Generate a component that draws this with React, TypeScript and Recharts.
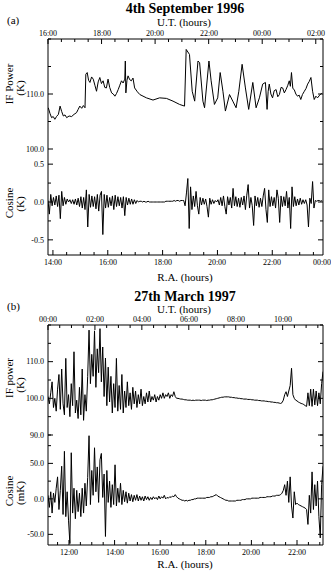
import React from "react";
import { LineChart, Line, XAxis, YAxis } from "recharts";

const FONT = '"Liberation Serif", "Times New Roman", Times, serif';

// ---- (a) 4th September 1996 ----
const raPowA = [
  13.83, 13.89, 13.95, 14.01, 14.07, 14.13, 14.2, 14.26, 14.32, 14.38,
  14.44, 14.5, 14.59, 14.68, 14.77, 14.86, 14.92, 14.98, 15.05, 15.11,
  15.17, 15.2, 15.25, 15.3, 15.35, 15.41, 15.47, 15.53, 15.59, 15.65,
  15.71, 15.77, 15.83, 15.89, 15.95, 16.01, 16.07, 16.14, 16.2, 16.26,
  16.32, 16.38, 16.44, 16.5, 16.56, 16.62, 16.64, 16.66, 16.7, 16.74,
  16.8, 16.86, 16.92, 16.98, 17.08, 17.17, 17.41, 17.65, 17.89, 18.14,
  18.38, 18.62, 18.8, 18.86, 18.98, 19.08, 19.17, 19.29, 19.35, 19.47,
  19.53, 19.69, 19.77, 19.89, 20.01, 20.1, 20.2, 20.29, 20.44, 20.56,
  20.68, 20.78, 20.9, 21.02, 21.14, 21.29, 21.41, 21.53, 21.65, 21.75,
  21.81, 21.85, 21.89, 21.95, 22.01, 22.07, 22.14, 22.2, 22.26, 22.32,
  22.38, 22.44, 22.5, 22.56, 22.62, 22.66, 22.7, 22.75, 22.8, 22.86,
  22.92, 22.98, 23.04, 23.1, 23.17, 23.23, 23.29, 23.35, 23.41, 23.47,
  23.53, 23.59, 23.65, 23.73, 23.81,
];
const ifPowA = [
  107.5, 106.5, 105.7, 105.9, 105.4, 105.9, 106.3, 107.8, 106.8, 106.0,
  106.2, 105.7, 106.0, 105.9, 106.3, 106.6, 107.2, 107.8, 107.4, 107.9,
  107.5, 113.6, 113.9, 112.5, 112.1, 113.1, 112.7, 111.6, 110.5, 112.2,
  113.0, 111.9, 112.4, 111.2, 111.1, 112.7, 111.2, 110.2, 110.0, 109.6,
  110.1, 110.8, 111.6, 112.4, 112.0, 112.7, 116.0, 110.2, 112.5, 113.3,
  112.6, 112.4, 112.9, 111.1, 110.4, 109.9, 109.3, 108.9, 109.3, 109.2,
  108.7, 108.1, 107.8, 118.1, 117.2, 110.5, 108.7, 116.0, 115.7, 108.7,
  107.5, 116.0, 112.4, 108.1, 109.3, 113.9, 110.5, 106.9, 109.9, 108.7,
  107.5, 110.5, 115.4, 111.1, 107.2, 112.1, 107.5, 109.3, 111.8, 112.1,
  107.2, 110.5, 111.8, 110.0, 109.3, 110.6, 110.8, 109.5, 109.9, 111.2,
  111.1, 110.2, 110.8, 111.5, 112.4, 111.4, 113.9, 111.0, 110.8, 110.0,
  109.6, 109.8, 109.0, 109.9, 110.5, 111.0, 111.8, 112.3, 113.0, 110.5,
  109.0, 109.6, 109.3, 109.8, 110.2,
];
const cosAStart = 13.82;
const cosAStep = 0.05;
const cosA = [
  0.02, -0.16, 0.1, -0.05, 0.06, -0.04, 0.08, -0.06, 0.09, -0.22,
  0.14, -0.05, 0.06, -0.03, 0.04, 0.0, 0.03, -0.02, 0.03, -0.03,
  0.04, -0.04, 0.05, -0.06, 0.07, -0.08, 0.06, -0.1, 0.16, -0.33,
  0.1, -0.07, 0.08, -0.06, 0.07, -0.09, 0.1, -0.12, 0.09, 0.14,
  -0.43, 0.1, -0.08, 0.09, -0.07, 0.06, -0.05, 0.08, -0.1, 0.09,
  -0.06, 0.07, -0.05, 0.06, -0.08, 0.07, -0.18, 0.06, -0.04, 0.05,
  -0.03, 0.04, -0.03, 0.03, -0.02, 0.02, 0.0, 0.01, 0.01, 0.0,
  0.01, 0.0, 0.0, 0.01, 0.0, 0.0, 0.0, 0.0, 0.0, 0.0,
  0.0, 0.0, 0.0, 0.0, 0.0, 0.0, 0.01, 0.01, 0.01, 0.01,
  0.01, 0.01, 0.02, 0.01, 0.02, 0.02, 0.01, 0.02, 0.02, 0.02,
  -0.05, 0.12, 0.31, -0.35, 0.2, -0.1, 0.08, -0.06, 0.14, -0.05,
  -0.16, 0.06, -0.04, 0.05, -0.03, 0.04, -0.06, -0.2, 0.05, -0.03,
  0.03, -0.02, 0.02, 0.0, 0.03, -0.04, 0.06, -0.05, 0.08, -0.06,
  -0.16, 0.07, -0.04, 0.06, -0.08, 0.18, -0.05, 0.07, -0.06, 0.05,
  -0.07, 0.06, -0.04, 0.08, -0.1, 0.09, 0.23, -0.08, 0.06, -0.05,
  -0.31, 0.08, -0.05, 0.06, -0.07, 0.05, -0.06, 0.08, 0.18, -0.1,
  -0.27, 0.16, -0.06, 0.07, -0.05, 0.06, -0.08, 0.16, 0.05, -0.27,
  0.08, -0.06, 0.07, -0.05, 0.14, -0.08, 0.06, -0.35, 0.2, -0.06,
  0.07, -0.05, 0.04, -0.04, 0.05, -0.03, 0.03, -0.02, 0.03, -0.04,
  -0.33, 0.05, -0.02, 0.27, -0.08, 0.02, 0.01, 0.02, 0.02, 0.01,
  0.02,
];

// ---- (b) 27th March 1997 ----
const bStart = 11.08;
const bStep = 0.06;
const ifPowB = [
  100.5, 98.5, 101.5, 104.5, 97.5, 100.0, 96.5, 102.5, 106.5, 97.0,
  108.0, 98.5, 95.5, 110.9, 97.5, 101.0, 95.0, 104.0, 98.0, 112.7,
  96.0, 99.5, 94.5, 103.0, 95.5, 108.0, 94.0, 101.0, 96.5, 106.0,
  118.6, 104.0, 112.0, 106.0, 118.4, 103.0, 113.5, 107.0, 119.0, 104.5,
  114.0, 100.5, 111.0, 98.0, 108.5, 99.0, 106.0, 96.0, 104.0, 97.5,
  110.9, 96.5, 103.5, 97.0, 106.5, 96.0, 102.0, 97.5, 104.5, 98.0,
  101.5, 97.0, 103.0, 98.5, 102.0, 97.5, 101.0, 98.5, 102.5, 98.0,
  100.5, 98.5, 101.5, 99.0, 102.0, 99.0, 100.5, 99.5, 101.0, 99.0,
  100.5, 99.5, 101.0, 100.0, 101.5, 100.0, 101.0, 100.5, 101.5, 100.0,
  101.0, 100.5, 101.8, 100.5, 100.0, 100.0, 99.9, 99.8, 99.8, 99.7,
  99.6, 99.6, 99.5, 99.5, 99.5, 99.4, 99.5, 99.4, 99.5, 99.5,
  99.5, 99.5, 99.4, 99.5, 99.5, 99.5, 99.4, 99.5, 99.5, 99.6,
  99.6, 99.7, 99.8, 99.9, 100.0, 100.1, 100.2, 100.3, 100.3, 100.4,
  100.4, 100.4, 100.4, 100.3, 100.3, 100.2, 100.2, 100.1, 100.1, 100.0,
  100.0, 99.9, 99.9, 99.8, 99.8, 99.8, 99.7, 99.7, 99.7, 99.6,
  99.6, 99.5, 99.5, 99.5, 99.4, 99.4, 99.3, 99.3, 99.3, 99.2,
  99.2, 99.1, 99.1, 99.0, 99.0, 98.9, 98.9, 98.8, 98.8, 98.7,
  98.6, 98.8, 99.5, 101.0, 101.8, 100.5, 102.0, 103.5, 108.2, 101.0,
  100.0, 99.5, 99.3, 99.0, 98.8, 98.6, 98.5, 98.3, 98.0, 97.8,
  101.5, 98.0, 102.5, 97.8, 102.5, 98.2, 102.0, 98.0, 101.5, 98.5,
  104.0, 107.3,
];
const cosB = [
  5, -12, 10, -20, 8, -5, 15, 31, -15, 12,
  46, -22, 67, -25, 10, -30, -63, 65, -20, 15,
  -28, 12, -18, 8, -25, 15, -20, 22, -10, 30,
  89, -8, 40, 5, 72, 10, 45, -5, 55, 64,
  2, 35, -53, 40, -5, 25, -12, 20, -8, 48,
  -10, 15, -5, 22, -8, 12, -4, 10, -6, 8,
  -3, 6, -4, 5, -2, 6, -3, 4, -2, 3,
  -3, 4, -1, 3, -2, 2, -1, 3, 0, 2,
  -1, 4, 0, 3, 1, 5, 0, 2, 1, 3,
  2, 4, 3, 6, 3, 1, 0, -1, -2, -2,
  -3, -2, -3, -2, -2, -1, -1, 0, 0, 1,
  1, 1, 1, 1, 1, 1, 2, 2, 2, 3,
  3, 4, 5, 6, 4, 3, 2, 1, 0, -1,
  -2, -2, -3, -3, -3, -3, -3, -3, -2, -2,
  -2, -2, -1, -1, -1, 0, 0, 0, 0, 1,
  1, 1, 1, 1, 1, 2, 2, 2, 2, 2,
  3, 3, 3, 3, 4, 4, 4, 5, 5, 5,
  6, 8, 12, 20, 5, 25, -5, 31, -10, -27,
  10, -8, -6, -8, -9, -10, -11, -12, -13, -15,
  -36, 5, -20, 38, -15, 20, -10, 25, -25, -55,
  20, 46,
];

type Dom = [number, number];

const raDomainA: Dom = [13.82, 23.85];
const utDomainA: Dom = [16, 26.27];
const raDomainB: Dom = [11.08, 23.14];
const utDomainB: Dom = [0, 11.72];

const ifTicksA = [100, 105, 110, 115, 120];
const ifLabelsA = [100, 110];
const cosTicksA = [-0.5, -0.25, 0, 0.25, 0.5];
const cosLabelsA = [-0.5, 0, 0.5];
const ifTicksB = [90, 95, 100, 105, 110, 115, 120];
const ifLabelsB = [100, 110];
const cosTicksB = [-50, -25, 0, 25, 50, 75, 90];
const cosLabelsB = [-50, 0, 50, 90];

const halfHours = (from: number, to: number) => {
  const out: number[] = [];
  for (let t = from; t <= to + 1e-9; t += 0.5) out.push(t);
  return out;
};

const hourLabel = (v: number) => {
  const h = ((Math.round(v) % 24) + 24) % 24;
  return (h < 10 ? "0" : "") + h + ":00";
};

function hourTick(side: "top" | "bottom", domain: Dom, labelled: boolean) {
  return (p: any) => {
    const { x, y, payload } = p;
    const v: number = payload.value;
    const major = Number.isInteger(v) && v % 2 === 0;
    const inside = v >= domain[0] - 1e-6 && v <= domain[1] + 1e-6;
    const len = major ? 5 : 3;
    const dir = side === "top" ? 1 : -1;
    // keep edge labels inside the page, as in the scanned figure
    const tx = Math.round(Math.min(x, 321.5));
    return (
      <g>
        {inside && <line x1={x} x2={x} y1={y} y2={y + dir * len} stroke="#000" />}
        {labelled && major && (
          <text
            x={tx}
            y={side === "top" ? y - 3 : y + 10}
            textAnchor="middle"
            fontSize={8}
            fontFamily={FONT}
            fill="#000"
            stroke="none"
          >
            {hourLabel(v)}
          </text>
        )}
      </g>
    );
  };
}

function valueTick(side: "left" | "right", labels: number[]) {
  return (p: any) => {
    const { x, y, payload } = p;
    const v: number = payload.value;
    const major = labels.includes(v);
    const len = major ? 5 : 3;
    const dir = side === "left" ? 1 : -1;
    return (
      <g>
        <line x1={x} x2={x + dir * len} y1={y} y2={y} stroke="#000" />
        {side === "left" && major && (
          <text x={x - 4} y={y + 2.8} textAnchor="end" fontSize={8} fontFamily={FONT} fill="#000">
            {v.toFixed(1)}
          </text>
        )}
      </g>
    );
  };
}

type PanelProps = {
  top: number;
  height: number;
  plotTop: number;
  plotBottom: number;
  rows: { x: number; v: number }[];
  xDomain: Dom;
  showXLabels: boolean;
  ut?: Dom;
  yDomain: Dom;
  yTicks: number[];
  yLabels: number[];
};

function Panel(props: PanelProps) {
  const { top, height, plotTop, plotBottom, rows, xDomain, showXLabels, ut, yDomain, yTicks, yLabels } = props;
  const xAxisHeight = showXLabels ? height - plotBottom : 0;
  return (
    <div style={{ position: "absolute", left: 0, top, width: 331, height }}>
      <LineChart
        width={331}
        height={height}
        data={rows}
        margin={{ top: ut ? 0 : plotTop, right: 0, bottom: showXLabels ? 0 : height - plotBottom, left: 0 }}
      >
        {ut && (
          <XAxis
            xAxisId="ut"
            dataKey={() => ut[0]}
            orientation="top"
            type="number"
            domain={ut}
            allowDataOverflow
            ticks={halfHours(Math.ceil(ut[0] * 2) / 2, ut[1])}
            interval={0}
            height={plotTop}
            tickSize={0}
            tickMargin={0}
            tickLine={false}
            axisLine={{ stroke: "#000" }}
            tick={hourTick("top", ut, true)}
          />
        )}
        <XAxis
          xAxisId="ra"
          dataKey="x"
          orientation="bottom"
          type="number"
          domain={xDomain}
          allowDataOverflow
          ticks={halfHours(Math.ceil(xDomain[0] * 2) / 2, showXLabels ? xDomain[1] + 0.3 : xDomain[1])}
          interval={0}
          height={xAxisHeight}
          tickSize={0}
          tickMargin={0}
          tickLine={false}
          axisLine={{ stroke: "#000" }}
          tick={hourTick("bottom", xDomain, showXLabels)}
        />
        <YAxis
          yAxisId="l"
          orientation="left"
          type="number"
          domain={yDomain}
          allowDataOverflow
          ticks={yTicks}
          interval={0}
          width={48}
          tickSize={0}
          tickMargin={0}
          tickLine={false}
          axisLine={{ stroke: "#000" }}
          tick={valueTick("left", yLabels)}
        />
        <YAxis
          yAxisId="r"
          dataKey={() => yDomain[0]}
          orientation="right"
          type="number"
          domain={yDomain}
          allowDataOverflow
          ticks={yTicks}
          interval={0}
          width={8}
          tickSize={0}
          tickMargin={0}
          tickLine={false}
          axisLine={{ stroke: "#000" }}
          tick={valueTick("right", yLabels)}
        />
        <Line
          xAxisId="ra"
          yAxisId="l"
          dataKey="v"
          type="linear"
          dot={false}
          stroke="#000"
          strokeWidth={1}
          strokeLinejoin="round"
          isAnimationActive={false}
        />
      </LineChart>
    </div>
  );
}

export default function App() {
  const rowsPowA = raPowA.map((x, i) => ({ x, v: ifPowA[i] }));
  const rowsCosA = cosA.map((v, i) => ({ x: cosAStart + i * cosAStep, v }));
  const rowsPowB = ifPowB.map((v, i) => ({ x: bStart + i * bStep, v }));
  const rowsCosB = cosB.map((v, i) => ({ x: bStart + i * bStep, v }));

  const rot = (x: number, y: number) => `translate(${x},${y}) rotate(-90)`;

  return (
    <div style={{ position: "absolute", left: 0, top: 0, width: 331, height: 571, fontFamily: FONT }}>
      <Panel top={0} height={160} plotTop={39} plotBottom={149} rows={rowsPowA} xDomain={raDomainA} showXLabels={false} ut={utDomainA} yDomain={[100, 120]} yTicks={ifTicksA} yLabels={ifLabelsA} />
      <Panel top={140} height={135} plotTop={9} plotBottom={115} rows={rowsCosA} xDomain={raDomainA} showXLabels={true} yDomain={[-0.7, 0.7]} yTicks={cosTicksA} yLabels={cosLabelsA} />
      <Panel top={290} height={155} plotTop={35} plotBottom={145} rows={rowsPowB} xDomain={raDomainB} showXLabels={false} ut={utDomainB} yDomain={[90, 120]} yTicks={ifTicksB} yLabels={ifLabelsB} />
      <Panel top={425} height={140} plotTop={10} plotBottom={120} rows={rowsCosB} xDomain={raDomainB} showXLabels={true} yDomain={[-65, 90]} yTicks={cosTicksB} yLabels={cosLabelsB} />
      <svg width={331} height={571} style={{ position: "absolute", left: 0, top: 0, pointerEvents: "none" }} fontFamily={FONT} fill="#000">
        <text x={185} y={13} textAnchor="middle" fontSize={14} fontWeight="bold">4th September 1996</text>
        <text x={7} y={24} fontSize={11}>(a)</text>
        <text x={184} y={26} textAnchor="middle" fontSize={11}>U.T. (hours)</text>
        <text x={185} y={281} textAnchor="middle" fontSize={11}>R.A. (hours)</text>
        <text x={185} y={301} textAnchor="middle" fontSize={14} fontWeight="bold">27th March 1997</text>
        <text x={7} y={310} fontSize={11}>(b)</text>
        <text x={184} y={312.5} textAnchor="middle" fontSize={11}>U.T. (hours)</text>
        <text x={185} y={567.5} textAnchor="middle" fontSize={11}>R.A. (hours)</text>

        <text transform={rot(9, 84)} textAnchor="middle" dominantBaseline="central" fontSize={11}>IF Power</text>
        <text transform={rot(20, 88)} textAnchor="middle" dominantBaseline="central" fontSize={11}>(K)</text>
        <text transform={rot(9, 203)} textAnchor="middle" dominantBaseline="central" fontSize={11}>Cosine</text>
        <text transform={rot(20, 204)} textAnchor="middle" dominantBaseline="central" fontSize={11}>(K)</text>
        <text transform={rot(9, 378)} textAnchor="middle" dominantBaseline="central" fontSize={11}>IF power</text>
        <text transform={rot(20, 385)} textAnchor="middle" dominantBaseline="central" fontSize={11}>(K)</text>
        <text transform={rot(9, 491)} textAnchor="middle" dominantBaseline="central" fontSize={11}>Cosine</text>
        <text transform={rot(20, 493)} textAnchor="middle" dominantBaseline="central" fontSize={11}>(mK)</text>
      </svg>
    </div>
  );
}
